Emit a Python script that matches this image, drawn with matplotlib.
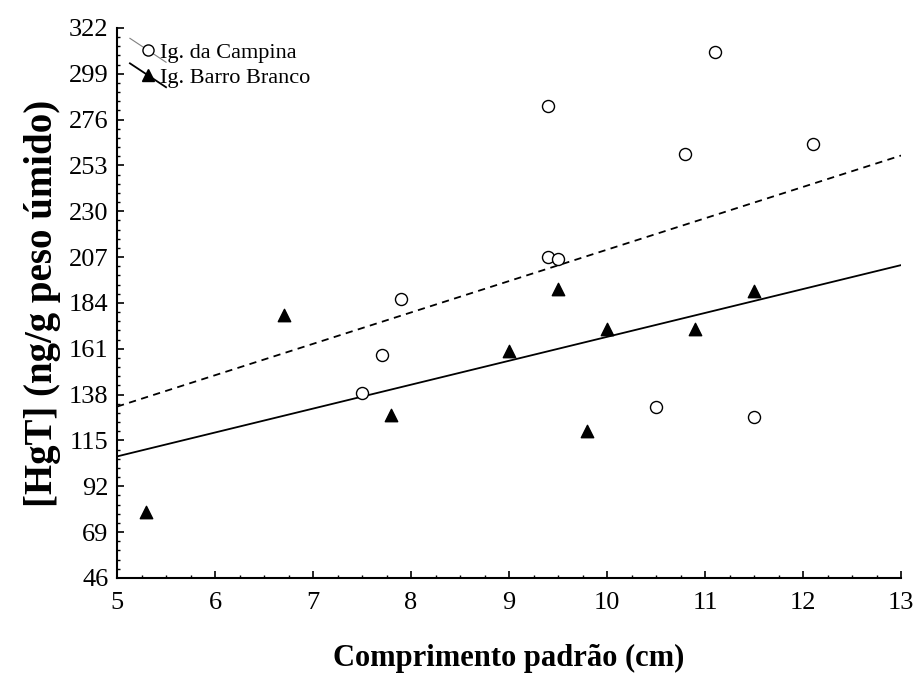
import matplotlib
matplotlib.use("Agg")
import matplotlib.pyplot as plt
from matplotlib.ticker import MultipleLocator, AutoMinorLocator
from matplotlib.legend_handler import HandlerLine2D
from matplotlib.lines import Line2D

plt.rcParams['font.family'] = ['Liberation Serif', 'DejaVu Serif']

# Ig. da Campina (círculos)
campina_x = [7.5, 7.7, 7.9, 9.4, 9.5, 9.4, 10.5, 10.8, 11.1, 11.5, 12.1]
campina_y = [139, 158, 186, 207, 206, 283, 132, 259, 310, 127, 264]

# Ig. Barro Branco (triângulos)
barro_x = [5.3, 6.7, 7.8, 9.0, 9.5, 9.8, 10.0, 10.9, 11.5]
barro_y = [79, 178, 128, 160, 191, 120, 171, 171, 190]

# Retas ajustadas
fit_x = [5, 13]
campina_fit = [132, 258]
barro_fit = [107, 203]

y_ticks = [46, 69, 92, 115, 138, 161, 184, 207, 230, 253, 276, 299, 322]


class DiagonalHandler(HandlerLine2D):
    # linha da legenda em diagonal, como no original
    def create_artists(self, legend, orig_handle, xdescent, ydescent,
                       width, height, fontsize, trans):
        x0, x1 = -xdescent - 4, width - xdescent + 6
        y0, y1 = height - ydescent + 3, -ydescent - 3
        line = Line2D([x0, x1], [y0, y1], color=orig_handle.get_color(),
                      lw=orig_handle.get_linewidth(), transform=trans)
        mk = Line2D([(x0 + x1) / 2], [(y0 + y1) / 2], linestyle='none',
                    marker=orig_handle.get_marker(),
                    markersize=orig_handle.get_markersize(),
                    markerfacecolor=orig_handle.get_markerfacecolor(),
                    markeredgecolor=orig_handle.get_markeredgecolor(),
                    transform=trans)
        return [line, mk]


fig = plt.figure(figsize=(9.18, 6.73), dpi=100)
ax = fig.add_axes([0.1275, 0.1412, 0.854, 0.8172])

ax.plot(fit_x, campina_fit, color='black', lw=1.3, linestyle=(0, (4, 3)))
ax.plot(fit_x, barro_fit, color='black', lw=1.3)
ax.scatter(campina_x, campina_y, s=75, facecolors='white', edgecolors='black',
           linewidths=1.0, zorder=3)
ax.scatter(barro_x, barro_y, s=80, marker='^', color='black', zorder=3)

ax.set_xlim(5, 13)
ax.set_ylim(46, 322)
ax.set_yticks(y_ticks)
ax.xaxis.set_major_locator(MultipleLocator(1))
ax.xaxis.set_minor_locator(AutoMinorLocator(4))
ax.yaxis.set_minor_locator(AutoMinorLocator(5))
ax.tick_params(which='major', direction='in', length=5, width=1.2,
               labelsize=19, pad=6)
ax.tick_params(axis='x', which='major', pad=10)
ax.tick_params(which='minor', direction='in', length=2.5, width=1)

for side in ['top', 'right']:
    ax.spines[side].set_visible(False)
for side in ['left', 'bottom']:
    ax.spines[side].set_linewidth(1.5)

ax.set_xlabel("Comprimento padrão (cm)", fontsize=22, fontweight='bold',
              labelpad=22)
ax.set_ylabel("[HgT] (ng/g peso úmido)", fontsize=28, fontweight='bold',
              labelpad=6)

h1 = Line2D([], [], color='gray', lw=0.8, marker='o', markersize=8,
            markerfacecolor='white', markeredgecolor='black')
h2 = Line2D([], [], color='black', lw=1.3, marker='^', markersize=9,
            markerfacecolor='black', markeredgecolor='black')
ax.legend([h1, h2], ["Ig. da Campina", "Ig. Barro Branco"],
          handler_map={Line2D: DiagonalHandler()},
          loc='upper left', bbox_to_anchor=(-0.002, 1.01), frameon=False,
          fontsize=16, handlelength=1.0, handletextpad=0.1, labelspacing=0.2)

fig.savefig("out.png", dpi=100)
